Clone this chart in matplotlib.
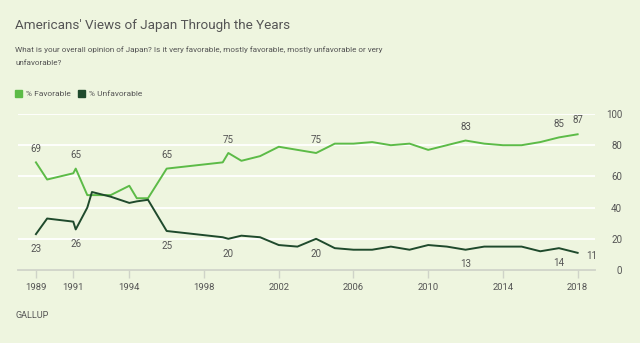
import matplotlib.pyplot as plt

# survey dates (decimal years) and shares
years = [1989, 1989.6, 1991, 1991.13, 1991.75, 1992, 1993, 1994, 1994.4, 1995,
         1996, 1999, 1999.3, 2000, 2001, 2002, 2003, 2004, 2005, 2006, 2007,
         2008, 2009, 2010, 2011, 2012, 2013, 2014, 2015, 2016, 2017, 2018]
favorable = [69, 58, 62, 65, 48, 48, 48, 54, 46, 46,
             65, 69, 75, 70, 73, 79, 77, 75, 81, 81, 82,
             80, 81, 77, 80, 83, 81, 80, 80, 82, 85, 87]
unfavorable = [23, 33, 31, 26, 40, 50, 47, 43, 44, 45,
               25, 21, 20, 22, 21, 16, 15, 20, 14, 13, 13,
               15, 13, 16, 15, 13, 15, 15, 15, 12, 14, 11]
labeled = [0, 3, 10, 12, 17, 25, 30, 31]
xticks = [1989, 1991, 1994, 1998, 2002, 2006, 2010, 2014, 2018]
yticks = [0, 20, 40, 60, 80, 100]

bg = '#eef5df'
fav_color = '#5cbb47'
unf_color = '#1f4a2c'
text_color = '#555555'

plt.rcParams['font.family'] = ['Roboto', 'DejaVu Sans']

fig = plt.figure(figsize=(6.4, 3.43), dpi=100, facecolor=bg)
ax = fig.add_axes([18 / 640, 73 / 343, 577 / 640, 156 / 343], facecolor=bg)

ax.plot(years, favorable, color=fav_color, lw=1.4, zorder=3)
ax.plot(years, unfavorable, color=unf_color, lw=1.4, zorder=3)

for i in labeled:
    if i == len(years) - 1:
        ax.annotate(str(favorable[i]), (years[i], favorable[i]), xytext=(0, 7),
                    textcoords='offset points', ha='center', va='bottom',
                    fontsize=7, color=text_color)
        ax.annotate(str(unfavorable[i]), (years[i], unfavorable[i]), xytext=(6, -2),
                    textcoords='offset points', ha='left', va='center',
                    fontsize=7, color=text_color)
        continue
    ax.annotate(str(favorable[i]), (years[i], favorable[i]), xytext=(0, 6),
                textcoords='offset points', ha='center', va='bottom',
                fontsize=7, color=text_color)
    ax.annotate(str(unfavorable[i]), (years[i], unfavorable[i]), xytext=(0, -7),
                textcoords='offset points', ha='center', va='top',
                fontsize=7, color=text_color)

ax.set_xlim(1988.04, 2018.93)
ax.set_ylim(0, 100)
ax.set_xticks(xticks)
ax.set_xticklabels([str(y) for y in xticks])
ax.set_yticks(yticks)
ax.yaxis.tick_right()
for lab in ax.get_yticklabels():
    lab.set_horizontalalignment('right')
ax.tick_params(axis='y', length=0, pad=19.5, labelsize=7, labelcolor=text_color)
ax.tick_params(axis='x', length=6, width=1, color='#cfd3c8', pad=3,
               labelsize=6.8, labelcolor=text_color)
ax.grid(axis='y', color='white', lw=1.3, zorder=1)
ax.set_axisbelow(True)
for s in ['top', 'left', 'right']:
    ax.spines[s].set_visible(False)
ax.spines['bottom'].set_color('#cfd3c8')
ax.spines['bottom'].set_linewidth(1.3)
ax.spines['bottom'].set_zorder(2)

fig.text(15 / 640, 1 - 25 / 343, "Americans' Views of Japan Through the Years",
         fontsize=9.7, color=text_color, va='center', ha='left')
fig.text(15 / 640, 1 - 50 / 343,
         "What is your overall opinion of Japan? Is it very favorable, mostly favorable, mostly unfavorable or very",
         fontsize=5.85, color=text_color, va='center', ha='left')
fig.text(15 / 640, 1 - 63 / 343, "unfavorable?",
         fontsize=5.85, color=text_color, va='center', ha='left')

# legend
fig.patches.append(plt.Rectangle((15 / 640, 1 - 97 / 343), 7 / 640, 7 / 343,
                                 transform=fig.transFigure, color=fav_color))
fig.text(26 / 640, 1 - 93.5 / 343, '% Favorable', fontsize=6.0, color=text_color,
         va='center', ha='left')
fig.patches.append(plt.Rectangle((78 / 640, 1 - 97 / 343), 7 / 640, 7 / 343,
                                 transform=fig.transFigure, color=unf_color))
fig.text(89 / 640, 1 - 93.5 / 343, '% Unfavorable', fontsize=6.0, color=text_color,
         va='center', ha='left')

fig.text(15 / 640, 1 - 316 / 343, 'GALLUP', fontsize=6.6, color=text_color,
         va='center', ha='left')

fig.savefig('out.png', dpi=100, facecolor=bg)
